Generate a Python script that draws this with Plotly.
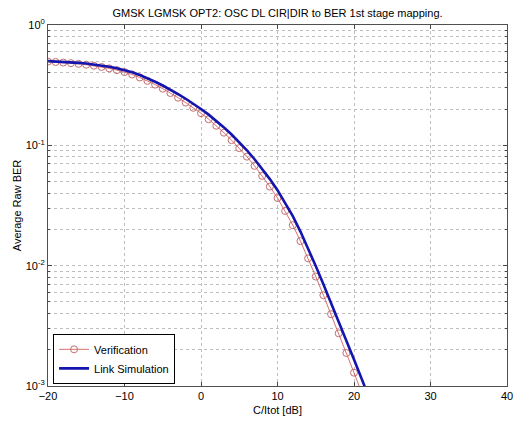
import plotly.graph_objects as go

# C/Itot [dB]
snr_link = list(range(-20, 23))
ber_link = [0.5012, 0.4984, 0.4948, 0.4902, 0.4849, 0.4786, 0.4710, 0.4613, 0.4498, 0.4365,
            0.4217, 0.4043, 0.3837, 0.3611, 0.3378, 0.3141, 0.2903, 0.2668, 0.2439, 0.2217,
            0.2004, 0.1799, 0.1600, 0.1409, 0.1230, 0.1064, 0.0910, 0.0767, 0.0638, 0.0524,
            0.0424, 0.0335, 0.0258, 0.0192, 0.0139, 0.00994, 0.00702, 0.00494, 0.00345,
            0.00240, 0.00166, 0.00115, 0.00079]

snr_ver = list(range(-20, 22))
ber_ver = [0.4966, 0.4925, 0.4875, 0.4817, 0.4751, 0.4677, 0.4590, 0.4483, 0.4359, 0.4219,
           0.4064, 0.3879, 0.3664, 0.3432, 0.3196, 0.2958, 0.2721, 0.2489, 0.2265, 0.2050,
           0.1849, 0.1648, 0.1455, 0.1274, 0.1104, 0.0948, 0.0805, 0.0675, 0.0557, 0.0454,
           0.0365, 0.0285, 0.0217, 0.0160, 0.0115, 0.00812, 0.00568, 0.00395, 0.00274,
           0.00188, 0.00129, 0.00088]

x_ticks = [-20, -10, 0, 10, 20, 30, 40]
y_ticks = [1, 0.1, 0.01, 0.001]
y_tick_text = ["10<sup>0</sup>", "10<sup>-1</sup>", "10<sup>-2</sup>", "10<sup>-3</sup>"]
y_minor = [m * 10.0 ** e for e in (-3, -2, -1) for m in range(2, 10)]

fig = go.Figure()
fig.add_trace(go.Scatter(
    x=snr_ver, y=ber_ver, mode="lines+markers", name="Verification",
    line=dict(color="rgb(205,75,75)", width=0.8),
    marker=dict(symbol="circle-open", size=7, color="rgb(195,110,110)",
                line=dict(width=1))))
fig.add_trace(go.Scatter(
    x=snr_link, y=ber_link, mode="lines", name="Link Simulation",
    line=dict(color="rgb(20,20,175)", width=2.6)))

grid_col = "rgb(190,190,190)"
fig.update_layout(
    width=512, height=414,
    margin=dict(l=40, r=7, t=17, b=27),
    paper_bgcolor="white", plot_bgcolor="white",
    font=dict(family="Liberation Sans, Arial, sans-serif", size=11, color="black"),
    title=dict(text="GMSK LGMSK OPT2: OSC DL CIR|DIR to BER 1st stage mapping.",
               x=0.5, xref="paper", xanchor="center",
               yref="container", y=0.9867, yanchor="middle",
               font=dict(size=11)),
    showlegend=True,
    legend=dict(x=0.011, y=0.006, xanchor="left", yanchor="bottom",
                bgcolor="white", bordercolor="black", borderwidth=1,
                font=dict(size=11), tracegroupgap=0, itemwidth=30),
    xaxis=dict(range=[-20, 40], tickvals=x_ticks, ticks="inside", ticklen=4,
               showline=True, linecolor="rgb(80,80,80)", linewidth=1, mirror="ticks",
               showgrid=True, gridcolor=grid_col, griddash="dot", gridwidth=1,
               zeroline=False,
               title=dict(text="C/Itot [dB]", standoff=5, font=dict(size=11))),
    yaxis=dict(type="log", range=[-3, 0], tickvals=y_ticks, ticktext=y_tick_text,
               ticks="inside", ticklen=4,
               showline=True, linecolor="rgb(80,80,80)", linewidth=1, mirror="ticks",
               showgrid=True, gridcolor=grid_col, griddash="dot", gridwidth=1,
               zeroline=False,
               minor=dict(tickvals=y_minor, ticks="inside", ticklen=2,
                          showgrid=True, gridcolor=grid_col, griddash="dot",
                          gridwidth=1),
               title=dict(text="Average Raw BER", standoff=1, font=dict(size=11))),
)

fig.write_html("out.html")
